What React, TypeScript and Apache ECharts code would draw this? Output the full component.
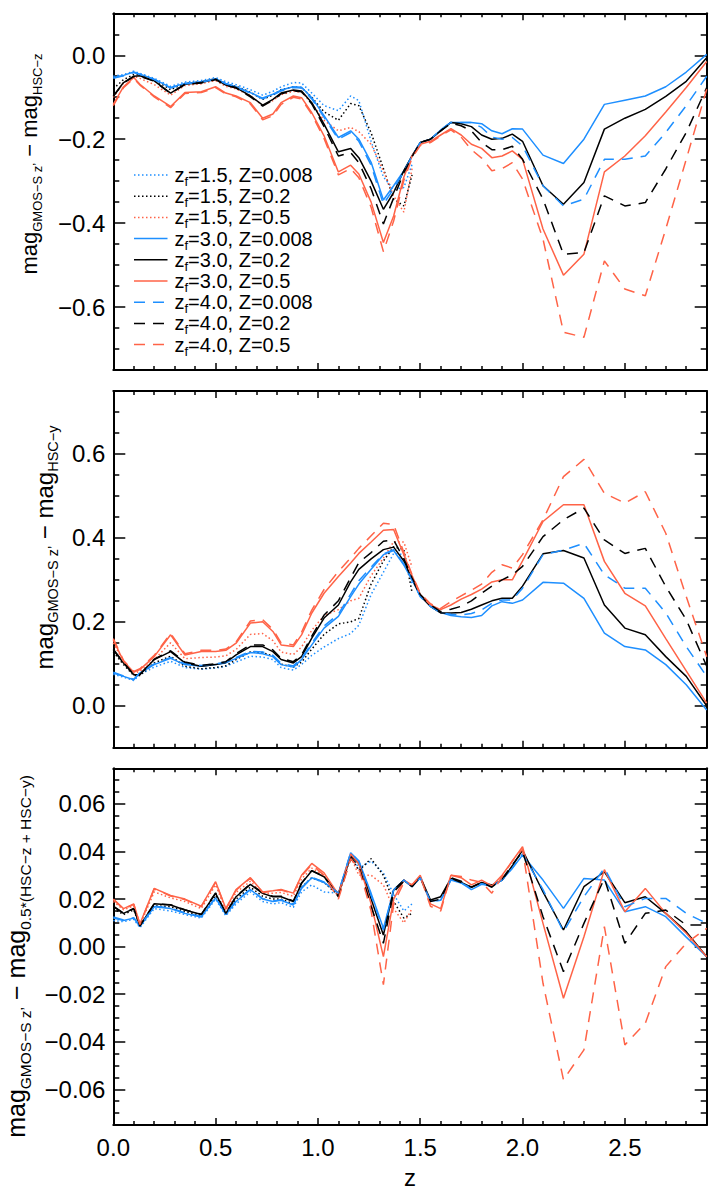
import { useEffect, useRef } from "react";
import * as echarts from "echarts";

// Redshift grid shared by the zf = 3.0 and zf = 4.0 tracks
const Z = [
  0.0, 0.05, 0.1, 0.13, 0.2, 0.28, 0.35, 0.43, 0.5, 0.55,
  0.6, 0.67, 0.73, 0.78, 0.82, 0.88, 0.92, 0.97, 1.03, 1.1,
  1.16, 1.2, 1.26, 1.32, 1.37, 1.42, 1.46, 1.5, 1.55, 1.6,
  1.65, 1.7, 1.75, 1.8, 1.85, 1.9, 1.95, 2.0, 2.1, 2.2,
  2.3, 2.4, 2.5, 2.6, 2.7, 2.8, 2.9,
];
// zf = 1.5 tracks stop at z = 1.46
const Z_ZF15 = [
  0.0, 0.05, 0.1, 0.13, 0.2, 0.28, 0.35, 0.43, 0.5, 0.55,
  0.6, 0.67, 0.73, 0.78, 0.82, 0.88, 0.92, 0.97, 1.03, 1.1,
  1.16, 1.2, 1.26, 1.32, 1.37, 1.42, 1.46,
];

// ---- GMOS-S z' - HSC-z ----
const hscZ_zf15_Z0008 = [
  -0.05, -0.046, -0.038, -0.043, -0.055, -0.074, -0.064, -0.06, -0.053, -0.063,
  -0.07, -0.082, -0.095, -0.086, -0.075, -0.065, -0.066, -0.09, -0.12, -0.132,
  -0.097, -0.108, -0.205, -0.29, -0.32, -0.315, -0.26,
];
const hscZ_zf15_Z02 = [
  -0.08, -0.058, -0.046, -0.046, -0.058, -0.082, -0.067, -0.063, -0.056, -0.068,
  -0.074, -0.088, -0.105, -0.095, -0.082, -0.075, -0.077, -0.1, -0.135, -0.155,
  -0.115, -0.12, -0.185, -0.27, -0.343, -0.359, -0.285,
];
const hscZ_zf15_Z05 = [
  -0.1, -0.066, -0.05, -0.055, -0.07, -0.095, -0.072, -0.068, -0.06, -0.074,
  -0.08, -0.096, -0.12, -0.108, -0.094, -0.086, -0.088, -0.115, -0.155, -0.18,
  -0.172, -0.182, -0.212, -0.276, -0.335, -0.374, -0.27,
];
const hscZ_zf30_Z0008 = [
  -0.053, -0.048, -0.04, -0.045, -0.057, -0.077, -0.067, -0.063, -0.056, -0.067,
  -0.075, -0.089, -0.102, -0.093, -0.083, -0.075, -0.076, -0.101, -0.144, -0.196,
  -0.18, -0.2, -0.255, -0.345, -0.311, -0.275, -0.24, -0.208, -0.2, -0.178,
  -0.16, -0.16, -0.16, -0.163, -0.18, -0.187, -0.175, -0.176, -0.238, -0.258,
  -0.2, -0.117, -0.107, -0.097, -0.075, -0.04, 0.002,
];
const hscZ_zf30_Z02 = [
  -0.097, -0.065, -0.05, -0.049, -0.061, -0.09, -0.069, -0.065, -0.057, -0.071,
  -0.077, -0.097, -0.119, -0.105, -0.09, -0.083, -0.085, -0.113, -0.164, -0.23,
  -0.222, -0.244, -0.3, -0.367, -0.327, -0.275, -0.24, -0.208, -0.2, -0.18,
  -0.16, -0.163, -0.17, -0.19, -0.2, -0.198, -0.188, -0.205, -0.311, -0.355,
  -0.303, -0.176, -0.15, -0.129, -0.098, -0.062, -0.006,
];
const hscZ_zf30_Z05 = [
  -0.117, -0.075, -0.053, -0.069, -0.097, -0.122, -0.089, -0.087, -0.075, -0.09,
  -0.097, -0.113, -0.15, -0.14, -0.113, -0.097, -0.101, -0.137, -0.192, -0.278,
  -0.262, -0.283, -0.35, -0.446, -0.383, -0.29, -0.24, -0.212, -0.205, -0.19,
  -0.175, -0.19, -0.212, -0.222, -0.244, -0.24, -0.228, -0.248, -0.414, -0.524,
  -0.474, -0.278, -0.24, -0.192, -0.135, -0.077, -0.015,
];
const hscZ_zf40_Z0008 = [
  -0.055, -0.049, -0.041, -0.046, -0.058, -0.078, -0.068, -0.064, -0.057, -0.068,
  -0.076, -0.09, -0.104, -0.095, -0.085, -0.077, -0.078, -0.104, -0.148, -0.2,
  -0.184, -0.205, -0.262, -0.355, -0.318, -0.278, -0.24, -0.208, -0.2, -0.178,
  -0.16, -0.16, -0.16, -0.172, -0.195, -0.2, -0.196, -0.216, -0.311, -0.359,
  -0.343, -0.248, -0.248, -0.24, -0.184, -0.12, -0.05,
];
const hscZ_zf40_Z02 = [
  -0.098, -0.066, -0.051, -0.05, -0.062, -0.091, -0.07, -0.066, -0.058, -0.072,
  -0.078, -0.099, -0.121, -0.107, -0.092, -0.085, -0.087, -0.116, -0.17, -0.24,
  -0.232, -0.256, -0.318, -0.402, -0.34, -0.28, -0.242, -0.208, -0.2, -0.18,
  -0.162, -0.168, -0.18, -0.208, -0.225, -0.225, -0.217, -0.248, -0.343, -0.474,
  -0.47, -0.335, -0.359, -0.351, -0.271, -0.184, -0.077,
];
const hscZ_zf40_Z05 = [
  -0.12, -0.077, -0.055, -0.071, -0.099, -0.125, -0.091, -0.089, -0.077, -0.092,
  -0.099, -0.116, -0.154, -0.144, -0.117, -0.1, -0.104, -0.141, -0.198, -0.285,
  -0.27, -0.292, -0.362, -0.468, -0.395, -0.298, -0.245, -0.215, -0.208, -0.192,
  -0.178, -0.195, -0.225, -0.245, -0.275, -0.27, -0.256, -0.295, -0.438, -0.66,
  -0.672, -0.49, -0.557, -0.573, -0.414, -0.248, -0.081,
];

// ---- GMOS-S z' - HSC-y ----
const hscY_zf15_Z0008 = [
  0.075, 0.068, 0.06, 0.074, 0.092, 0.106, 0.091, 0.087, 0.09, 0.094,
  0.104, 0.118, 0.116, 0.11, 0.091, 0.085, 0.098, 0.12, 0.14, 0.16,
  0.172, 0.192, 0.265, 0.318, 0.363, 0.36, 0.29,
];
const hscY_zf15_Z02 = [
  0.128, 0.098, 0.072, 0.072, 0.102, 0.118, 0.094, 0.088, 0.091, 0.095,
  0.11, 0.128, 0.127, 0.118, 0.099, 0.092, 0.104, 0.135, 0.17, 0.195,
  0.2, 0.208, 0.29, 0.345, 0.379, 0.372, 0.27,
];
const hscY_zf15_Z05 = [
  0.15, 0.104, 0.078, 0.082, 0.11, 0.15, 0.112, 0.115, 0.116, 0.119,
  0.134, 0.17, 0.172, 0.155, 0.128, 0.122, 0.14, 0.18, 0.215, 0.229,
  0.25, 0.256, 0.31, 0.352, 0.391, 0.39, 0.33,
];
const hscY_zf30_Z0008 = [
  0.078, 0.07, 0.062, 0.078, 0.098, 0.113, 0.098, 0.094, 0.098, 0.102,
  0.113, 0.127, 0.124, 0.117, 0.098, 0.092, 0.11, 0.145, 0.185, 0.213,
  0.26, 0.29, 0.325, 0.36, 0.37, 0.335, 0.3, 0.262, 0.237, 0.222,
  0.215, 0.212, 0.21, 0.215, 0.238, 0.248, 0.244, 0.252, 0.294, 0.292,
  0.256, 0.173, 0.141, 0.133, 0.098, 0.05, -0.01,
];
const hscY_zf30_Z02 = [
  0.133, 0.102, 0.074, 0.074, 0.11, 0.129, 0.102, 0.094, 0.098, 0.103,
  0.121, 0.141, 0.141, 0.129, 0.11, 0.102, 0.117, 0.161, 0.209, 0.24,
  0.295, 0.325, 0.35, 0.372, 0.378, 0.345, 0.302, 0.262, 0.237, 0.221,
  0.221, 0.222, 0.23, 0.24, 0.25, 0.256, 0.256, 0.285, 0.362, 0.37,
  0.352, 0.24, 0.185, 0.169, 0.117, 0.07, 0.0,
];
const hscY_zf30_Z05 = [
  0.157, 0.106, 0.08, 0.086, 0.117, 0.169, 0.121, 0.129, 0.129, 0.132,
  0.149, 0.197, 0.2, 0.177, 0.145, 0.141, 0.169, 0.221, 0.268, 0.308,
  0.34, 0.363, 0.39, 0.418, 0.42, 0.36, 0.31, 0.265, 0.24, 0.229,
  0.24, 0.254, 0.265, 0.278, 0.295, 0.3, 0.3, 0.345, 0.439, 0.479,
  0.479, 0.344, 0.268, 0.238, 0.16, 0.083, 0.006,
];
const hscY_zf40_Z0008 = [
  0.08, 0.071, 0.063, 0.079, 0.1, 0.115, 0.1, 0.096, 0.1, 0.104,
  0.115, 0.13, 0.128, 0.12, 0.101, 0.095, 0.113, 0.149, 0.19, 0.218,
  0.266, 0.298, 0.33, 0.362, 0.372, 0.338, 0.3, 0.26, 0.237, 0.221,
  0.218, 0.216, 0.22, 0.228, 0.244, 0.252, 0.252, 0.28, 0.36, 0.371,
  0.387, 0.312, 0.28, 0.28, 0.221, 0.141, 0.07,
];
const hscY_zf40_Z02 = [
  0.135, 0.103, 0.075, 0.075, 0.111, 0.131, 0.104, 0.096, 0.1, 0.105,
  0.124, 0.145, 0.145, 0.133, 0.113, 0.105, 0.121, 0.166, 0.216, 0.25,
  0.305, 0.341, 0.365, 0.392, 0.395, 0.35, 0.305, 0.265, 0.24, 0.224,
  0.23, 0.237, 0.25, 0.268, 0.285, 0.3, 0.312, 0.332, 0.403, 0.443,
  0.471, 0.395, 0.363, 0.375, 0.284, 0.205, 0.094,
];
const hscY_zf40_Z05 = [
  0.16, 0.108, 0.082, 0.088, 0.12, 0.172, 0.124, 0.132, 0.132, 0.135,
  0.152, 0.202, 0.205, 0.182, 0.15, 0.145, 0.175, 0.228, 0.277, 0.32,
  0.352, 0.375, 0.405, 0.435, 0.432, 0.365, 0.312, 0.268, 0.243, 0.232,
  0.248, 0.262, 0.275, 0.29, 0.318, 0.336, 0.328, 0.36, 0.443, 0.546,
  0.587, 0.506, 0.483, 0.51, 0.411, 0.26, 0.117,
];

// ---- GMOS-S z' - 0.5*(HSC-z + HSC-y) ----
const hscZY_zf15_Z0008 = [
  0.011, 0.0105, 0.0115, 0.008, 0.016, 0.015, 0.0135, 0.012, 0.02, 0.013,
  0.018, 0.023, 0.019, 0.018, 0.0185, 0.0165, 0.023, 0.026, 0.023, 0.0225,
  0.039, 0.033, 0.036, 0.031, 0.022, 0.015, 0.018,
];
const hscZY_zf15_Z02 = [
  0.016, 0.0135, 0.0155, 0.0085, 0.0172, 0.0168, 0.0148, 0.013, 0.0215, 0.0135,
  0.02, 0.025, 0.0212, 0.02, 0.02, 0.018, 0.025, 0.029, 0.027, 0.0215,
  0.038, 0.032, 0.037, 0.03, 0.019, 0.012, 0.014,
];
const hscZY_zf15_Z05 = [
  0.019, 0.0155, 0.0172, 0.009, 0.023, 0.0205, 0.019, 0.016, 0.026, 0.0152,
  0.0228, 0.0275, 0.022, 0.0225, 0.0228, 0.0212, 0.0285, 0.033, 0.03, 0.021,
  0.038, 0.03, 0.03, 0.026, 0.016, 0.01, 0.016,
];
const hscZY_zf30_Z0008 = [
  0.012, 0.011, 0.012, 0.0085, 0.0168, 0.016, 0.014, 0.0125, 0.0205, 0.0135,
  0.019, 0.024, 0.02, 0.019, 0.0195, 0.0175, 0.0245, 0.029, 0.027, 0.0225,
  0.0395, 0.036, 0.0224, 0.0077, 0.0238, 0.028, 0.0252, 0.029, 0.0192, 0.0195,
  0.028, 0.0268, 0.024, 0.0262, 0.0255, 0.028, 0.033, 0.0385, 0.028, 0.0161,
  0.0287, 0.028, 0.0147, 0.0168, 0.0126, 0.004, -0.0042,
];
const hscZY_zf30_Z02 = [
  0.0168, 0.014, 0.016, 0.0087, 0.018, 0.0175, 0.0154, 0.0135, 0.0224, 0.014,
  0.021, 0.0262, 0.0224, 0.021, 0.021, 0.019, 0.0266, 0.0319, 0.0294, 0.022,
  0.038, 0.035, 0.02, 0.0049, 0.0238, 0.028, 0.0252, 0.0294, 0.0196, 0.021,
  0.0287, 0.027, 0.025, 0.027, 0.0259, 0.028, 0.034, 0.0406, 0.023, 0.007,
  0.0252, 0.0315, 0.0185, 0.021, 0.014, 0.0063, -0.0042,
];
const hscZY_zf30_Z05 = [
  0.02, 0.016, 0.018, 0.0095, 0.0245, 0.0215, 0.02, 0.017, 0.0273, 0.016,
  0.024, 0.029, 0.023, 0.0235, 0.024, 0.0225, 0.03, 0.035, 0.031, 0.022,
  0.039, 0.035, 0.018, -0.0042, 0.02, 0.028, 0.026, 0.03, 0.018, 0.016,
  0.03, 0.029, 0.026, 0.028, 0.0255, 0.03, 0.036, 0.042, 0.0098, -0.0217,
  0.0042, 0.0324, 0.0147, 0.0245, 0.014, 0.0056, -0.0042,
];
const hscZY_zf40_Z0008 = [
  0.0125, 0.0112, 0.0122, 0.0087, 0.017, 0.0162, 0.0142, 0.0127, 0.0207, 0.0137,
  0.0192, 0.0242, 0.0202, 0.0192, 0.0197, 0.0178, 0.0248, 0.0292, 0.0272, 0.0225,
  0.0395, 0.036, 0.0215, 0.007, 0.0238, 0.028, 0.0252, 0.029, 0.019, 0.0195,
  0.0282, 0.0268, 0.0245, 0.0265, 0.0255, 0.028, 0.033, 0.039, 0.024, 0.0063,
  0.021, 0.033, 0.0168, 0.0203, 0.0203, 0.014, 0.0098,
];
const hscZY_zf40_Z02 = [
  0.017, 0.0141, 0.0161, 0.0088, 0.0181, 0.0176, 0.0155, 0.0136, 0.0226, 0.0141,
  0.0212, 0.0264, 0.0226, 0.0212, 0.0212, 0.0192, 0.0268, 0.032, 0.0295, 0.021,
  0.037, 0.034, 0.017, 0.0014, 0.023, 0.0275, 0.0255, 0.0292, 0.019, 0.02,
  0.029, 0.0275, 0.025, 0.027, 0.025, 0.0285, 0.0345, 0.04, 0.0126, -0.0105,
  0.0098, 0.0287, 0.0014, 0.014, 0.0154, 0.0091, 0.0091,
];
const hscZY_zf40_Z05 = [
  0.0198, 0.0158, 0.0178, 0.0093, 0.0243, 0.0213, 0.0198, 0.0168, 0.0271, 0.0158,
  0.0238, 0.0288, 0.0228, 0.0233, 0.0238, 0.0223, 0.0298, 0.0345, 0.03, 0.02,
  0.037, 0.033, 0.015, -0.016, 0.018, 0.027, 0.026, 0.0295, 0.017, 0.015,
  0.03, 0.0295, 0.028, 0.027, 0.0225, 0.0295, 0.036, 0.041, -0.0154, -0.056,
  -0.0434, 0.0084, -0.0413, -0.0322, -0.0084, 0.0014, 0.0077,
];

// Model tracks: formation redshift, metallicity, colour and dash
const BLUE = "#1E8FFF";
const RED = "#FF6347";
const BLACK = "#000000";
const DOT = [1.5, 2.5];
const DASH = [11, 8];

const MODELS = [
  { zf: "1.5", met: "0.008", color: BLUE, dash: DOT, z: Z_ZF15, p: [hscZ_zf15_Z0008, hscY_zf15_Z0008, hscZY_zf15_Z0008] },
  { zf: "1.5", met: "0.2", color: BLACK, dash: DOT, z: Z_ZF15, p: [hscZ_zf15_Z02, hscY_zf15_Z02, hscZY_zf15_Z02] },
  { zf: "1.5", met: "0.5", color: RED, dash: DOT, z: Z_ZF15, p: [hscZ_zf15_Z05, hscY_zf15_Z05, hscZY_zf15_Z05] },
  { zf: "3.0", met: "0.008", color: BLUE, dash: null, z: Z, p: [hscZ_zf30_Z0008, hscY_zf30_Z0008, hscZY_zf30_Z0008] },
  { zf: "3.0", met: "0.2", color: BLACK, dash: null, z: Z, p: [hscZ_zf30_Z02, hscY_zf30_Z02, hscZY_zf30_Z02] },
  { zf: "3.0", met: "0.5", color: RED, dash: null, z: Z, p: [hscZ_zf30_Z05, hscY_zf30_Z05, hscZY_zf30_Z05] },
  { zf: "4.0", met: "0.008", color: BLUE, dash: DASH, z: Z, p: [hscZ_zf40_Z0008, hscY_zf40_Z0008, hscZY_zf40_Z0008] },
  { zf: "4.0", met: "0.2", color: BLACK, dash: DASH, z: Z, p: [hscZ_zf40_Z02, hscY_zf40_Z02, hscZY_zf40_Z02] },
  { zf: "4.0", met: "0.5", color: RED, dash: DASH, z: Z, p: [hscZ_zf40_Z05, hscY_zf40_Z05, hscZY_zf40_Z05] },
];

const FONT = "'Liberation Sans', Arial, Helvetica, sans-serif";

const PLOT_LEFT = 113.3;
const PLOT_WIDTH = 593.4;
const PLOT_HEIGHT = 356.7;

const PANELS = [
  { top: 13.3, min: -0.75, max: 0.1, split: 4, digits: 1, sub: "HSC−z", titleX: 29, titleY: 164, main: 22, small: 13 },
  { top: 391, min: -0.1, max: 0.75, split: 4, digits: 1, sub: "HSC−y", titleX: 44, titleY: 547.5, main: 24, small: 14.5 },
  { top: 768.3, min: -0.075, max: 0.075, split: 7, digits: 2, sub: "0.5*(HSC−z + HSC−y)", titleX: 16, titleY: 956.5, main: 25, small: 15.5 },
];

function fmt(v: number, d: number) {
  const s = Math.abs(v) < 1e-9 ? (0).toFixed(d) : v.toFixed(d);
  return s.replace("-", "−");
}

function buildOption() {
  const frame = { onZero: false, lineStyle: { color: "#000", width: 2 } };
  const grid: any[] = [];
  const xAxis: any[] = [];
  const yAxis: any[] = [];
  const series: any[] = [];
  const graphic: any[] = [];

  PANELS.forEach((pn, i) => {
    grid.push({ left: PLOT_LEFT, top: pn.top, width: PLOT_WIDTH, height: PLOT_HEIGHT });
    const xCommon = {
      type: "value",
      gridIndex: i,
      min: 0,
      max: 2.9,
      interval: 0.5,
      axisLine: frame,
      axisTick: { inside: true, length: 7, lineStyle: { color: "#000", width: 1.5 } },
      minorTick: { show: true, splitNumber: 5, length: 4, lineStyle: { color: "#000", width: 1.5 } },
      splitLine: { show: false },
    };
    xAxis.push({
      ...xCommon,
      position: "bottom",
      axisLabel: {
        show: i === 2,
        formatter: (v: number) => fmt(v, 1),
        fontSize: 24,
        fontFamily: FONT,
        color: "#000",
        margin: 10,
        showMaxLabel: false,
      },
    });
    xAxis.push({ ...xCommon, position: "top", axisLabel: { show: false } });

    const yCommon = {
      type: "value",
      gridIndex: i,
      min: pn.min,
      max: pn.max,
      splitNumber: pn.split,
      axisLine: frame,
      axisTick: { inside: true, length: 12, lineStyle: { color: "#000", width: 1.5 } },
      minorTick: { show: true, splitNumber: 4, length: 6, lineStyle: { color: "#000", width: 1.5 } },
      splitLine: { show: false },
    };
    yAxis.push({
      ...yCommon,
      position: "left",
      axisLabel: {
        formatter: (v: number) => fmt(v, pn.digits),
        fontSize: 24,
        fontFamily: FONT,
        color: "#000",
        margin: 8,
        showMinLabel: false,
        showMaxLabel: false,
      },
    });
    yAxis.push({ ...yCommon, position: "right", axisLabel: { show: false } });

    MODELS.forEach((m) => {
      const vals = m.p[i];
      series.push({
        type: "line",
        xAxisIndex: 2 * i,
        yAxisIndex: 2 * i,
        data: vals.map((v, k) => [m.z[k], v]),
        showSymbol: false,
        symbol: "none",
        silent: true,
        lineStyle: { color: m.color, width: 1.5, type: m.dash ?? "solid" },
      });
    });

    // Rotated axis title with lowered subscripts
    const drop = Math.round(pn.main * 0.72);
    graphic.push({
      type: "text",
      x: pn.titleX,
      y: pn.titleY,
      rotation: Math.PI / 2,
      style: {
        text: `{m|mag}{s|GMOS−S z’}{m| − mag}{s|${pn.sub}}`,
        align: "center",
        verticalAlign: "middle",
        rich: {
          m: { fontSize: pn.main, fontFamily: FONT, fill: "#000", verticalAlign: "middle" },
          s: { fontSize: pn.small, fontFamily: FONT, fill: "#000", verticalAlign: "middle", padding: [drop, 0, 0, 0] },
        },
      },
    });
  });

  graphic.push({
    type: "text",
    x: 410,
    y: 1177,
    style: { text: "z", fontSize: 24, fontFamily: FONT, fill: "#000", align: "center", verticalAlign: "middle" },
  });

  MODELS.forEach((m, k) => {
    const y = 175 + k * 21.2;
    graphic.push({
      type: "line",
      shape: { x1: 134, y1: y, x2: 167.5, y2: y },
      style: { stroke: m.color, lineWidth: 1.5, lineDash: m.dash ?? null },
    });
    graphic.push({
      type: "text",
      x: 174.5,
      y,
      style: {
        text: `{m|z}{s|f}{m|=${m.zf}, Z=${m.met}}`,
        align: "left",
        verticalAlign: "middle",
        rich: {
          m: { fontSize: 20, fontFamily: FONT, fill: "#000", verticalAlign: "middle" },
          s: { fontSize: 13, fontFamily: FONT, fill: "#000", verticalAlign: "middle", padding: [13, 0, 0, 0] },
        },
      },
    });
  });

  return { animation: false, backgroundColor: "#fff", grid, xAxis, yAxis, series, graphic };
}

export default function App() {
  const ref = useRef<HTMLDivElement>(null);
  useEffect(() => {
    const chart = echarts.init(ref.current!, null, { renderer: "svg" });
    chart.setOption(buildOption());
    return () => chart.dispose();
  }, []);
  return (
    <div
      ref={ref}
      style={{ position: "absolute", left: 0, top: 0, width: 719, height: 1198, background: "#fff" }}
    />
  );
}
